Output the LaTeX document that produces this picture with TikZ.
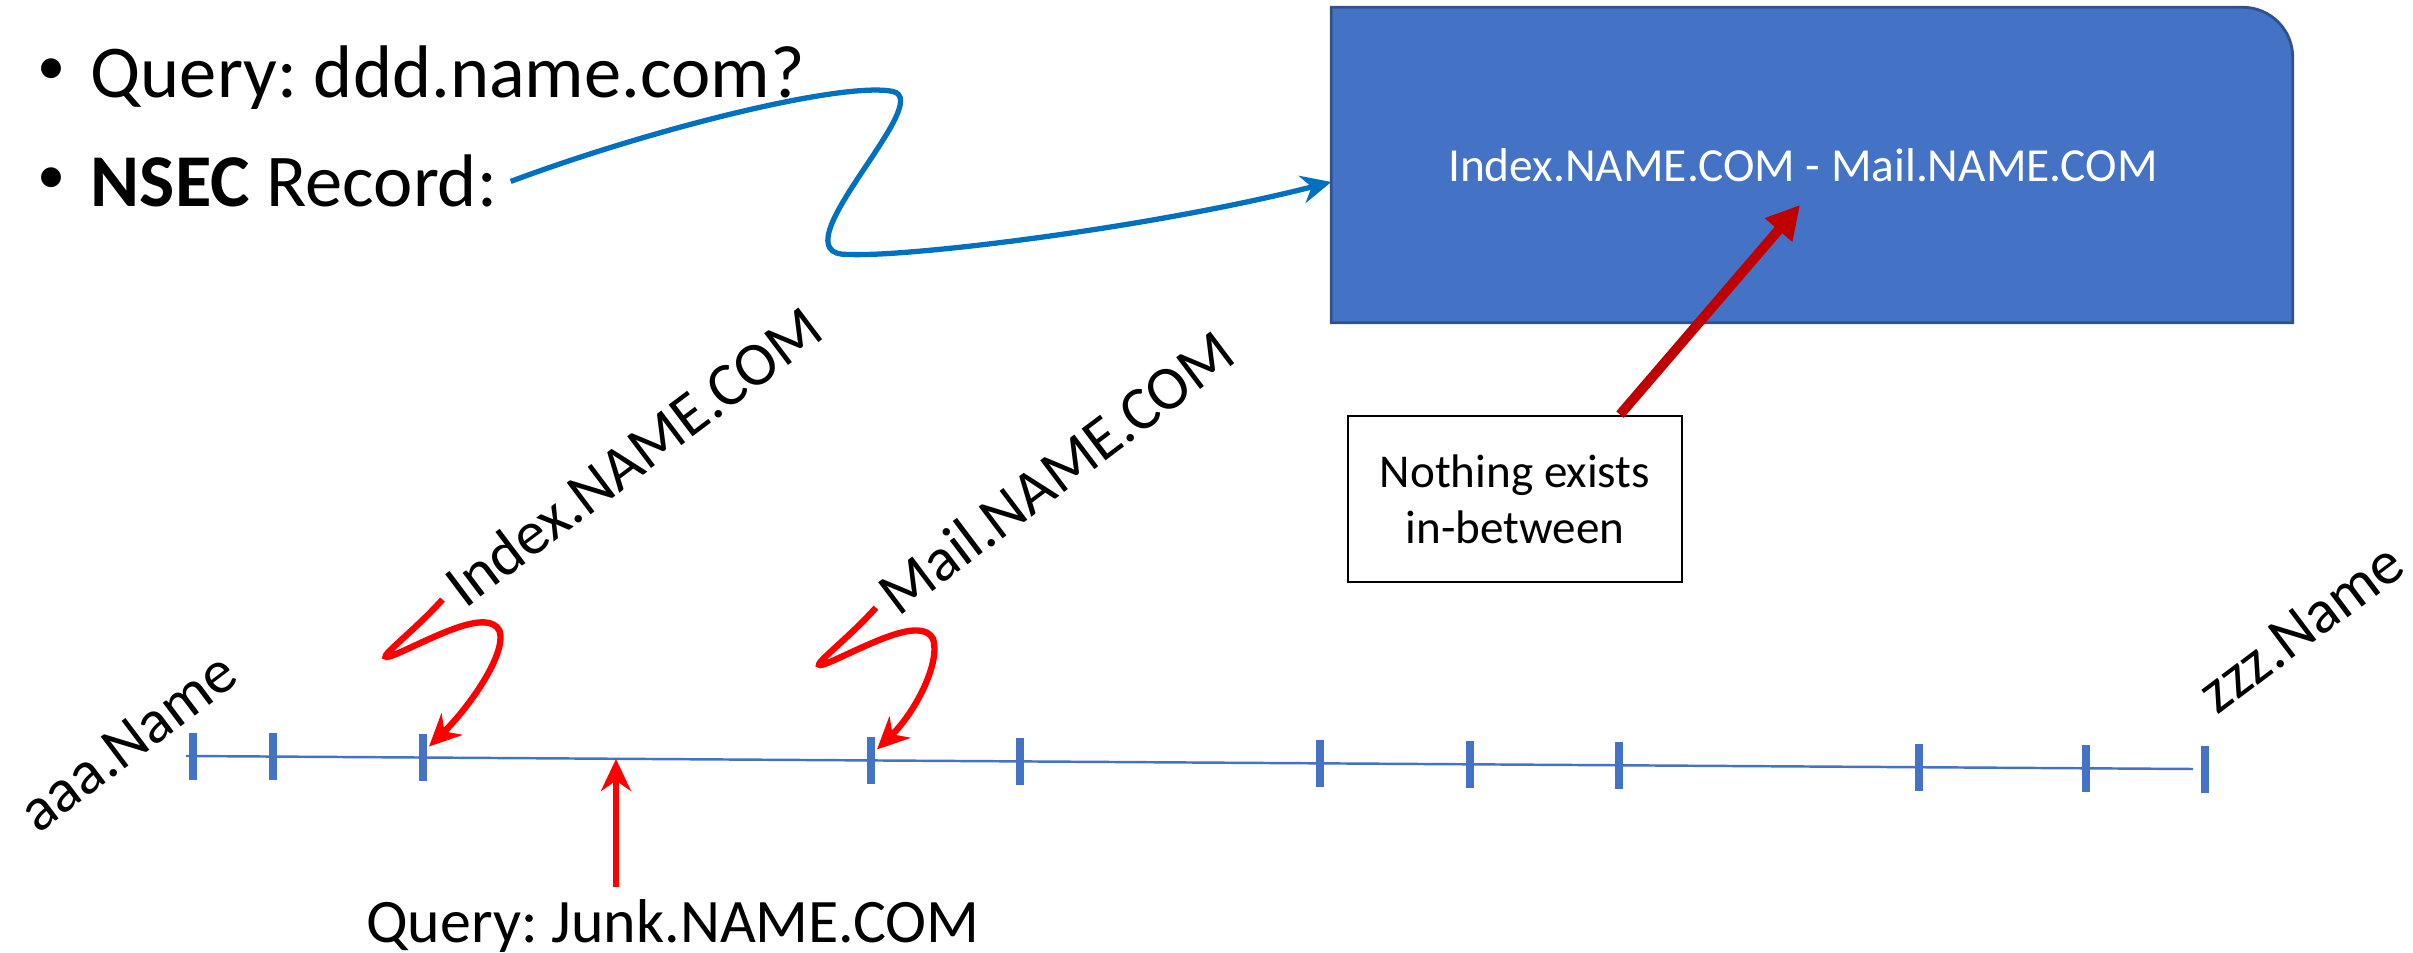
\documentclass[tikz,border=0pt]{standalone}
\usepackage{fontspec}
\setmainfont{Carlito}
\frenchspacing
\usetikzlibrary{arrows.meta,calc,backgrounds}
\definecolor{tickblue}{HTML}{4472C4}
\definecolor{boxedge}{HTML}{2F528F}
\definecolor{linkblue}{HTML}{0070C0}
\definecolor{dred}{HTML}{C00000}
\tikzset{
  bul/.style={inner sep=0pt,font=\fontsize{21.2}{25}\selectfont},
  dot/.style={inner sep=0pt,font=\fontsize{16}{19}\selectfont},
  lab/.style={rotate=37,font=\fontsize{17.6}{21}\selectfont},
  tk/.style={draw=tickblue,line width=2.2pt},
  tline/.style={draw=tickblue,line width=0.7pt},
  rarr/.style={draw=red,line width=1.8pt,-{Stealth[length=3.2mm,width=3mm]}},
  barr/.style={draw=linkblue,line width=1.5pt,-{Stealth[length=3mm,width=2.8mm]}},
  darr/.style={draw=dred,line width=2.8pt,-{Triangle[length=3.3mm,width=3.4mm]}},
  nsecbox/.style={minimum width=9.6cm,minimum height=3.14cm,text=white,
    font=\fontsize{13.5}{16}\selectfont},
  notebox/.style={draw,line width=0.8pt,minimum width=3.34cm,minimum height=1.66cm,
    align=center,font=\fontsize{13.4}{15.9}\selectfont},
}

\begin{document}
\begin{tikzpicture}
  \useasboundingbox (0,0) rectangle (24.13,-9.53);
  % bullets on top
  \node[dot] at (0.52,-0.72) {\textbullet};
  \node[bul,anchor=base west] (qry) at (0.90,-0.98) {Query: ddd.name.com?};
  \node[dot] at (0.52,-1.81) {\textbullet};
  \node[bul,anchor=base west] (nsec) at (0.90,-2.07) {\textbf{NSEC} Record:};

  % the record itself
  \node[nsecbox] (rec) at (18.12,-1.65) {\hspace*{-0.18cm}Index.NAME.COM - Mail.NAME.COM};
  \begin{scope}[on background layer]
    \draw[boxedge,fill=tickblue,line width=0.8pt] (rec.south west) -- (rec.north west)
      -- ([xshift=-0.5cm]rec.north east) arc[start angle=90,end angle=0,radius=0.5cm]
      -- (rec.south east) -- cycle;
  \end{scope}
  \coordinate (gap) at (18.00,-2.05);

  \draw[barr] ([xshift=1.3mm]nsec.east) .. controls +(1.42,0.53) and +(-0.50,0.10) .. ++(3.82,0.90)
    .. controls +(0.45,-0.09) and +(-0.75,-0.01) .. ++(-0.45,-1.63)
    .. controls +(0.60,-0.03) and +(-1.81,-0.46) .. ([yshift=-1.7mm]rec.west);

  \node[notebox] (note) at (15.15,-4.99) {Nothing exists\\in-between};
  \draw[darr] ([xshift=1.05cm]note.north) -- (gap);

  % name line with ticks
  \draw[tline] (1.86,-7.56) -- (21.93,-7.69);
  \foreach \x [count=\i] in {1.93,2.73,4.23,8.71,10.20,13.20,14.70,16.19,19.19,20.86,22.05} {
    \coordinate (t\i) at (\x,{-7.56-(\x-1.86)*0.0065});
    \draw[tk] (t\i) ++(0,0.235) -- ++(0,-0.47);
  }

  \node[lab] (laaa) at (1.28,-7.42) {aaa.Name};
  \node[lab] (lidx) at (6.33,-4.56) {Index.NAME.COM};
  \node[lab] (lmail) at (10.56,-4.72) {Mail.NAME.COM};
  \node[lab] (lzzz) at (23.01,-6.28) {zzz.Name};

  \foreach \lb/\tg in {lidx/t3,lmail/t4}
    \draw[rarr] (\lb.west) .. controls +(-0.35,-0.39) and +(-0.37,-0.16) .. ++(-0.43,-0.53)
      .. controls +(0.38,0.17) and +(-0.12,0.22) .. ++(1.00,0.22)
      .. controls +(0.08,-0.23) and +(0.39,0.38) .. ([shift={(0.06,0.11)}]\tg);

  % the query that falls in the gap
  \coordinate (qtip) at (6.16,-7.59);
  \node[anchor=base,font=\fontsize{17.6}{21}\selectfont] (junk) at (6.73,-9.42) {Query: Junk.NAME.COM};
  \draw[rarr] (qtip |- junk.north) -- (qtip);
\end{tikzpicture}
\end{document}
